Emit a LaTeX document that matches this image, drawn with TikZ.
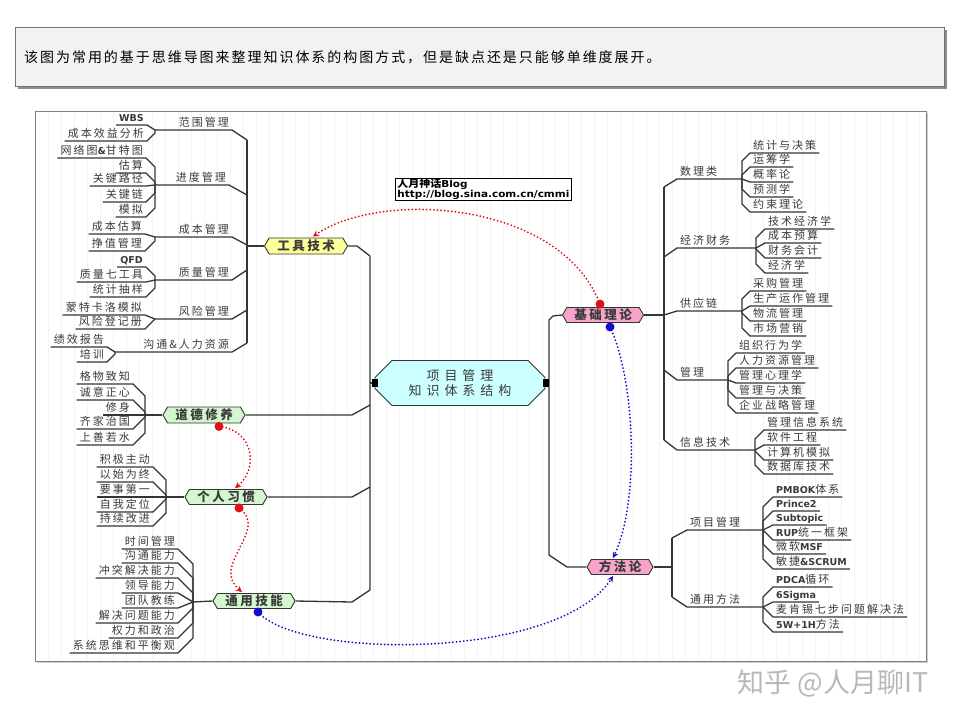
\documentclass[tikz,border=0pt]{standalone}
\usepackage{fontspec}
\usepackage{graphicx}
\usetikzlibrary{shapes.geometric,shapes.misc,shapes.symbols,arrows.meta,calc}
\newfontfamily\cjkleaf[LetterSpace=18]{Noto Sans CJK SC}
\newfontfamily\cjkmain[LetterSpace=20]{Noto Sans CJK SC}
\newfontfamily\cjkctr[LetterSpace=38]{Noto Sans CJK SC}
\newfontfamily\cjkban[LetterSpace=14]{Noto Sans CJK SC}
\newfontfamily\cjkwm{Noto Sans CJK SC}
\newfontfamily\cjkbold{Noto Sans CJK SC}
\newfontfamily\blogfont{DejaVu Sans}
\newcommand\lt[1]{{\blogfont\bfseries\fontsize{9.5}{10}\selectfont #1}}
\definecolor{linec}{HTML}{2F3A2F}
\definecolor{txtc}{HTML}{3A3A3A}
\definecolor{yelfill}{HTML}{FFFF99}
\definecolor{grnfill}{HTML}{D5F5D0}
\definecolor{pinkfill}{HTML}{F7A3CB}
\definecolor{cyanfill}{HTML}{CCFFFF}
\definecolor{reddot}{HTML}{E0101A}
\definecolor{bluedot}{HTML}{1010C8}
\definecolor{banfill}{HTML}{F2F2F2}
\definecolor{gridc}{HTML}{F3F3F3}
\tikzset{
  ml/.style={draw=linec, line width=1.3pt, line join=round},
  leaf/.style={font=\cjkleaf\fontsize{11}{13}\selectfont, text=txtc, inner xsep=3pt, inner ysep=1.2pt, text depth=2.2pt},
  topic/.style={shape=signal, signal to=west and east, signal pointer angle=120, draw=linec, line width=0.9pt, font=\cjkmain\fontsize{12.5}{14}\selectfont\bfseries, inner sep=0pt, minimum height=16pt, text=txtc},
  reldot/.style={line width=2pt, line cap=round, dash pattern=on 0pt off 3.6pt},
}
\newcommand\rleaf[6]{%
  \pgfmathsetmacro\lfyy{abs(#3-#4)<#5 ? #3 : #4+#5*sign(#3-#4)}%
  \node[leaf,anchor=south west] (#1) at (#2+#5,#4) {#6};
  \draw[ml] (#2,#3) -- (#2,\lfyy) -- (#2+#5,#4) -- (#1.south east);
}
\newcommand\lleaf[6]{%
  \pgfmathsetmacro\lfyy{abs(#3-#4)<#5 ? #3 : #4+#5*sign(#3-#4)}%
  \node[leaf,anchor=south east] (#1) at (#2-#5,#4) {#6};
  \draw[ml] (#2,#3) -- (#2,\lfyy) -- (#2-#5,#4) -- (#1.south west);
}
\begin{document}
\begin{tikzpicture}[x=1pt,y=-1pt]
\useasboundingbox (0,0) rectangle (960,720);
\fill[white] (0,0) rectangle (960,720);
% banner
\fill[black!45] (18,30) rectangle (947,89);
\filldraw[fill=banfill, draw=black!55, line width=0.8pt] (15,27) rectangle (944,86);
\node[anchor=west, font=\cjkban\fontsize{14}{16}\selectfont, text=black, inner sep=0pt] (ban) at (24,57) {该图为常用的基于思维导图来整理知识体系的构图方式，但是缺点还是只能够单维度展开。};
% frame
\fill[black!20] (37,113) rectangle (928,663);
\filldraw[fill=white, draw=black!50, line width=0.8pt] (35,111) rectangle (926,661);
\foreach \gx in {48,61,...,920} \draw[gridc, line width=0.7pt] (\gx,112) -- (\gx,660);
% watermark
\node[font=\cjkwm\fontsize{27}{30}\selectfont, text=black!28] (wm) at (833,683) {知乎 @人月聊IT};

% main nodes
\node[chamfered rectangle, chamfered rectangle xsep=8pt, chamfered rectangle ysep=9pt, fill=cyanfill, draw=linec, line width=0.9pt, minimum width=170pt, minimum height=43pt, inner sep=0pt, align=center, text=txtc, font=\cjkctr\fontsize{13}{15}\selectfont] (ctr) at (460,383) {项目管理\\知识体系结构};
\node[topic, fill=yelfill, minimum width=83pt] (gjjs) at (306,246) {工具技术};
\node[topic, fill=grnfill, minimum width=82pt] (ddxy) at (204,415) {道德修养};
\node[topic, fill=grnfill, minimum width=82pt, minimum height=15pt] (grxg) at (226,497) {个人习惯};
\node[topic, fill=grnfill, minimum width=82pt, minimum height=15pt] (tyjn) at (254,601) {通用技能};
\node[topic, fill=pinkfill, minimum width=81pt, minimum height=15pt] (jcll) at (603,315) {基础理论};
\node[topic, fill=pinkfill, minimum width=66pt, minimum height=15pt] (ffl) at (620,567) {方法论};

% blog box
\node[draw=black, line width=0.8pt, fill=white, inner xsep=2pt, inner ysep=0.8pt, anchor=north west, align=left, font=\blogfont\bfseries\fontsize{9.5}{10}\selectfont] (blog) at (395,178) {\scalebox{1.1}[1]{{\cjkbold\bfseries\fontsize{10}{10}\selectfont 人月神话}Blog}\\\scalebox{1.1}[1]{http://blog.sina.com.cn/cmmi}};

% central connections
\draw[ml] (gjjs.east) -- (357,246) -- (370,256) -- (370,590);
\draw[ml] (ddxy.east) -- (352,415) -- (370,405);
\draw[ml] (grxg.east) -- (352,497) -- (370,487);
\draw[ml] (tyjn.east) -- (352,602) -- (370,590);
\draw[ml] (370,383) -- (ctr.west);
\draw[ml] (ctr.east) -- (549,383);
\draw[ml] (jcll.west) -- (553,316) -- (549,320) -- (549,555) -- (567,567) -- (ffl.west);
\fill[black] (372,379) rectangle (378,387);
\fill[black] (543,379) rectangle (549,387);

% ---- 工具技术 group
\draw[ml] (gjjs.west) -- (247,246);
\draw[ml] (247,140) -- (247,343);
\node[leaf,anchor=south east] (g1) at (232,130) {范围管理};
\draw[ml] (155,130) -- (232,130) -- (247,140);
\lleaf{g1a}{155}{130}{125}{8}{\lt{WBS}}
\lleaf{g1b}{155}{130}{141}{8}{成本效益分析}
\node[leaf,anchor=south east] (g2) at (229,185) {进度管理};
\draw[ml] (155,185) -- (229,185) -- (247,195);
\lleaf{g2a}{155}{185}{158}{9}{网络图\lt{\&}甘特图}
\lleaf{g2b}{155}{185}{173}{9}{估算}
\lleaf{g2c}{155}{185}{186}{9}{关键路径}
\lleaf{g2d}{155}{185}{202}{9}{关键链}
\lleaf{g2e}{155}{185}{217}{9}{模拟}
\node[leaf,anchor=south east] (g3) at (232,237) {成本管理};
\draw[ml] (155,237) -- (232,237) -- (247,245);
\lleaf{g3a}{155}{237}{234}{10}{成本估算}
\lleaf{g3b}{155}{237}{251}{10}{挣值管理}
\node[leaf,anchor=south east] (g4) at (232,280) {质量管理};
\draw[ml] (155,280) -- (232,280) -- (247,270);
\lleaf{g4a}{155}{280}{267}{9}{\lt{QFD}}
\lleaf{g4b}{155}{280}{282}{9}{质量七工具}
\lleaf{g4c}{155}{280}{297}{9}{统计抽样}
\node[leaf,anchor=south east] (g5) at (232,319) {风险管理};
\draw[ml] (155,319) -- (232,319) -- (247,310);
\lleaf{g5a}{155}{319}{315}{10}{蒙特卡洛模拟}
\lleaf{g5b}{155}{319}{329}{10}{风险登记册}
\node[leaf,anchor=south east] (g6) at (232,352) {沟通\&人力资源};
\draw[ml] (115,352) -- (232,352) -- (247,343);
\lleaf{g6a}{115}{352}{347}{8}{绩效报告}
\lleaf{g6b}{115}{352}{362}{8}{培训}

% ---- 道德修养
\draw[ml] (ddxy.west) -- (145,415);
\lleaf{d1}{145}{415}{384}{12}{格物致知}
\lleaf{d2}{145}{415}{400}{12}{诚意正心}
\lleaf{d3}{145}{415}{415}{12}{修身}
\lleaf{d4}{145}{415}{429}{12}{齐家治国}
\lleaf{d5}{145}{415}{445}{12}{上善若水}
% ---- 个人习惯
\draw[ml] (grxg.west) -- (166,497);
\lleaf{h1}{166}{497}{467}{13}{积极主动}
\lleaf{h2}{166}{497}{482}{13}{以始为终}
\lleaf{h3}{166}{497}{497}{13}{要事第一}
\lleaf{h4}{166}{497}{512}{13}{自我定位}
\lleaf{h5}{166}{497}{526}{13}{持续改进}
% ---- 通用技能
\draw[ml] (tyjn.west) -- (193,602);
\lleaf{t1}{193}{602}{549}{15}{时间管理}
\lleaf{t2}{193}{602}{563}{15}{沟通能力}
\lleaf{t3}{193}{602}{578}{15}{冲突解决能力}
\lleaf{t4}{193}{602}{593}{15}{领导能力}
\lleaf{t5}{193}{602}{608}{15}{团队教练}
\lleaf{t6}{193}{602}{623}{15}{解决问题能力}
\lleaf{t7}{193}{602}{638}{15}{权力和政治}
\lleaf{t8}{193}{602}{653}{15}{系统思维和平衡观}

% ---- 基础理论 group
\draw[ml] (jcll.east) -- (664,315);
\draw[ml] (664,187) -- (664,440);
\node[leaf,anchor=south west] (s1) at (677,179) {数理类};
\draw[ml] (664,187) -- (677,179) -- (742,179);
\rleaf{s1a}{742}{179}{153}{8}{统计与决策}
\rleaf{s1b}{742}{179}{167}{8}{运筹学}
\rleaf{s1c}{742}{179}{182}{8}{概率论}
\rleaf{s1d}{742}{179}{197}{8}{预测学}
\rleaf{s1e}{742}{179}{212}{8}{约束理论}
\node[leaf,anchor=south west] (s2) at (677,248) {经济财务};
\draw[ml] (664,257) -- (677,248) -- (756,248);
\rleaf{s2a}{756}{248}{229}{9}{技术经济学}
\rleaf{s2b}{756}{248}{243}{9}{成本预算}
\rleaf{s2c}{756}{248}{258}{9}{财务会计}
\rleaf{s2d}{756}{248}{273}{9}{经济学}
\node[leaf,anchor=south west] (s3) at (677,311) {供应链};
\draw[ml] (664,315) -- (677,311) -- (742,311);
\rleaf{s3a}{742}{311}{291}{8}{采购管理}
\rleaf{s3b}{742}{311}{306}{8}{生产运作管理}
\rleaf{s3c}{742}{311}{321}{8}{物流管理}
\rleaf{s3d}{742}{311}{336}{8}{市场营销}
\node[leaf,anchor=south west] (s4) at (677,380) {管理};
\draw[ml] (664,370) -- (677,380) -- (728,380);
\rleaf{s4a}{728}{380}{353}{8}{组织行为学}
\rleaf{s4b}{728}{380}{368}{8}{人力资源管理}
\rleaf{s4c}{728}{380}{383}{8}{管理心理学}
\rleaf{s4d}{728}{380}{398}{8}{管理与决策}
\rleaf{s4e}{728}{380}{413}{8}{企业战略管理}
\node[leaf,anchor=south west] (s5) at (677,450) {信息技术};
\draw[ml] (664,440) -- (677,450) -- (755,450);
\rleaf{s5a}{755}{450}{430}{9}{管理信息系统}
\rleaf{s5b}{755}{450}{445}{9}{软件工程}
\rleaf{s5c}{755}{450}{460}{9}{计算机模拟}
\rleaf{s5d}{755}{450}{474}{9}{数据库技术}

% ---- 方法论 group
\draw[ml] (ffl.east) -- (672,567);
\draw[ml] (672,538) -- (672,597);
\node[leaf,anchor=south west] (m1) at (687,530) {项目管理};
\draw[ml] (672,538) -- (687,530) -- (763,530);
\rleaf{m1a}{763}{530}{497}{10}{\lt{PMBOK}体系}
\rleaf{m1b}{763}{530}{511}{10}{\lt{Prince2}}
\rleaf{m1c}{763}{530}{525}{10}{\lt{Subtopic}}
\rleaf{m1d}{763}{530}{540}{10}{\lt{RUP}统一框架}
\rleaf{m1e}{763}{530}{554}{10}{微软\lt{MSF}}
\rleaf{m1f}{763}{530}{569}{10}{敏捷\lt{\&SCRUM}}
\node[leaf,anchor=south west] (m2) at (687,607) {通用方法};
\draw[ml] (672,597) -- (687,607) -- (763,607);
\rleaf{m2a}{763}{607}{587}{10}{\lt{PDCA}循环}
\rleaf{m2b}{763}{607}{602}{10}{\lt{6Sigma}}
\rleaf{m2c}{763}{607}{617}{10}{麦肯锡七步问题解决法}
\rleaf{m2d}{763}{607}{632}{10}{\lt{5W+1H}方法}

% ---- relationship arcs
\coordinate (r1s) at ([xshift=-3pt,yshift=3pt]jcll.north);
\coordinate (r1e) at ([xshift=7pt,yshift=1pt]gjjs.north);
\coordinate (b1s) at ([xshift=7pt,yshift=-4pt]jcll.south);
\coordinate (b1e) at ([xshift=-7pt,yshift=1pt]ffl.north);
\coordinate (b2s) at ([xshift=4pt,yshift=-3pt]tyjn.south);
\coordinate (b2e) at ([xshift=-7pt,yshift=-1pt]ffl.south);
\coordinate (r2s) at ([xshift=15pt,yshift=-3pt]ddxy.south);
\coordinate (r2e) at ([xshift=9pt,yshift=1pt]grxg.north);
\coordinate (r3s) at ([xshift=13pt,yshift=-3pt]grxg.south);
\coordinate (r3e) at ([xshift=-12pt,yshift=1pt]tyjn.north);
\draw[reldot, draw=reddot, -{Stealth[length=6pt,width=6pt]}] (r1s) .. controls (560,200) and (380,190) .. (r1e);
\draw[reldot, draw=bluedot, -{Stealth[length=6pt,width=6pt]}] (b1s) .. controls (635,380) and (640,500) .. (b1e);
\draw[reldot, draw=bluedot, -{Stealth[length=6pt,width=6pt]}] (b2s) .. controls (300,660) and (560,660) .. (b2e);
\draw[reldot, draw=reddot, -{Stealth[length=6pt,width=6pt]}] (r2s) .. controls (255,430) and (258,470) .. (r2e);
\draw[reldot, draw=reddot, -{Stealth[length=6pt,width=6pt]}] (r3s) .. controls (270,530) and (210,565) .. (r3e);
\fill[reddot] (r1s) circle[radius=4.5pt];
\fill[bluedot] (b1s) circle[radius=4.5pt];
\fill[bluedot] (b2s) circle[radius=4.5pt];
\fill[reddot] (r2s) circle[radius=4.5pt];
\fill[reddot] (r3s) circle[radius=4.5pt];
\end{tikzpicture}
\end{document}
